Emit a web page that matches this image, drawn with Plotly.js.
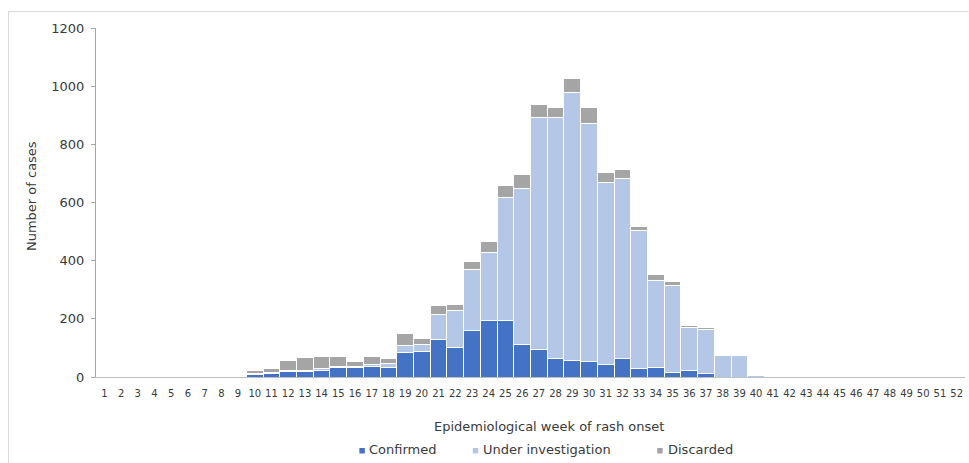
<!DOCTYPE html>
<html>
<head>
<meta charset="utf-8">
<script src="https://cdn.plot.ly/plotly-3.0.1.min.js"></script>
<style>
  html, body { margin: 0; padding: 0; background: #fff; }
  #chart { width: 969px; height: 463px; }
</style>
</head>
<body>
<div id="chart"></div>
<script>
var weeks = [];
for (var i = 1; i <= 52; i++) weeks.push(i);
var weekLabels = weeks.map(String);

var confirmed = [0,0,0,0,0,0,0,0,0,8,12,20,20,24,33,33,36,33,85,89,130,100,160,195,195,112,96,64,57,53,43,64,29,33,17,24,12,0,0,0,0,0,0,0,0,0,0,0,0,0,0,0];
var underInvestigation = [0,0,0,0,0,0,0,0,0,3,4,4,4,4,2,2,6,14,22,23,85,127,208,232,423,537,797,830,920,820,625,620,474,300,299,145,152,73,73,5,0,0,0,0,0,0,0,0,0,0,0,0];
var discarded = [0,0,0,0,0,0,0,0,0,10,12,32,44,44,37,18,30,17,42,19,31,23,28,40,42,47,45,32,50,52,35,29,15,19,13,7,7,0,0,0,0,0,0,0,0,0,0,0,0,0,0,0];

var seriesNames = ['Confirmed', 'Under investigation', 'Discarded'];
var seriesColors = ['#4472C4', '#B4C7E7', '#A5A5A5'];
var seriesValues = [confirmed, underInvestigation, discarded];

var FONT = 'DejaVu Sans, Verdana, sans-serif';
var TXT = '#3a3a3a';

var traces = seriesValues.map(function (vals, k) {
  return {
    type: 'bar',
    name: seriesNames[k],
    x: weeks,
    y: vals,
    marker: { color: seriesColors[k], line: { color: '#ffffff', width: 1 } },
    showlegend: false
  };
});

var L = 96, R = 3.5, T = 28, B = 86;
var W = 969, H = 463;
var pw = W - L - R, ph = H - T - B;
function px2x(p) { return (p - L) / pw; }
function py2y(p) { return (H - B - p) / ph; }

// custom legend placement (pixels)
var legendSquareX = [359.5, 473, 657.5];
var legendTextX = [367, 481.5, 666.5];
var legendTextY = 449.5;
var legendSq = [448, 453.5];

var annotations = [{
  xref: 'paper', yref: 'paper',
  x: px2x(549), y: py2y(426.5),
  xanchor: 'center', yanchor: 'middle',
  text: 'Epidemiological week of rash onset',
  showarrow: false,
  font: { family: FONT, size: 13, color: TXT }
}, {
  xref: 'paper', yref: 'paper',
  x: px2x(31), y: py2y(196),
  xanchor: 'center', yanchor: 'middle',
  textangle: -90,
  text: 'Number of cases',
  showarrow: false,
  font: { family: FONT, size: 13, color: TXT }
}];

var shapes = [
  { type: 'line', xref: 'paper', yref: 'paper', x0: px2x(8.5), x1: px2x(969), y0: py2y(11.5), y1: py2y(11.5), line: { color: '#D9D9D9', width: 1 } },
  { type: 'line', xref: 'paper', yref: 'paper', x0: px2x(8.5), x1: px2x(8.5), y0: py2y(11.5), y1: py2y(463), line: { color: '#D9D9D9', width: 1 } }
];

seriesNames.forEach(function (name, k) {
  shapes.push({
    type: 'rect', xref: 'paper', yref: 'paper',
    x0: px2x(legendSquareX[k]), x1: px2x(legendSquareX[k] + 5.5),
    y0: py2y(legendSq[1]), y1: py2y(legendSq[0]),
    fillcolor: seriesColors[k], line: { width: 0 }
  });
  annotations.push({
    xref: 'paper', yref: 'paper',
    x: px2x(legendTextX[k]), y: py2y(legendTextY),
    xanchor: 'left', yanchor: 'middle',
    text: name, showarrow: false,
    font: { family: FONT, size: 13, color: TXT }
  });
});

var layout = {
  width: W, height: H,
  margin: { l: L, r: R, t: T, b: B, pad: 0, autoexpand: false },
  paper_bgcolor: '#ffffff',
  plot_bgcolor: '#ffffff',
  barmode: 'stack',
  bargap: 0,
  font: { family: FONT, color: TXT, size: 13 },
  showlegend: false,
  xaxis: {
    range: [0.5, 52.5],
    tickmode: 'array',
    tickvals: weeks,
    ticktext: weekLabels,
    tickfont: { family: FONT, size: 10, color: TXT },
    ticks: '',
    ticklabelstandoff: 7,
    showgrid: false,
    zeroline: false,
    showline: true,
    linecolor: '#BFBFBF',
    linewidth: 1,
    automargin: false,
    fixedrange: true
  },
  yaxis: {
    range: [0, 1200],
    tickmode: 'linear',
    tick0: 0,
    dtick: 200,
    tickfont: { family: FONT, size: 13, color: TXT },
    ticks: 'outside',
    ticklen: 4,
    tickcolor: '#A6A6A6',
    ticklabelstandoff: 4,
    showgrid: false,
    zeroline: false,
    showline: true,
    linecolor: '#A6A6A6',
    linewidth: 1,
    automargin: false,
    fixedrange: true
  },
  annotations: annotations,
  shapes: shapes
};

Plotly.newPlot('chart', traces, layout, { displayModeBar: false, staticPlot: true });
</script>
</body>
</html>
